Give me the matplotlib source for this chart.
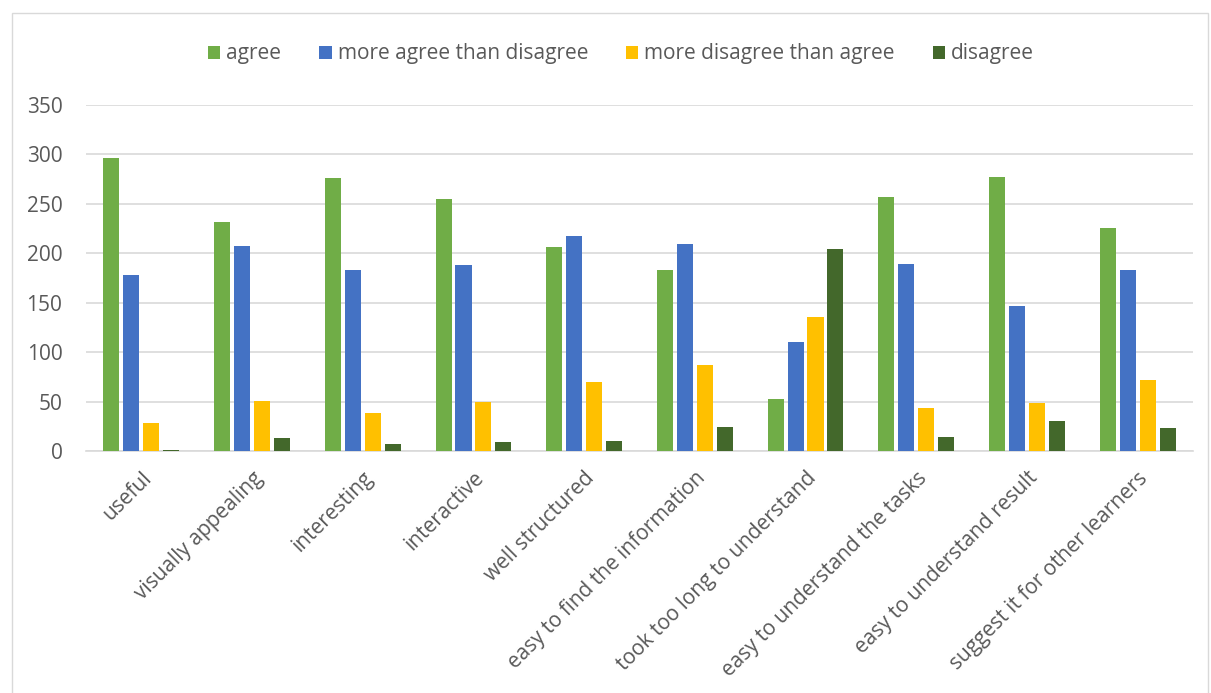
import matplotlib
matplotlib.use("Agg")
import matplotlib.pyplot as plt
import numpy as np
from matplotlib.patches import Rectangle

categories = ["useful", "visually appealing", "interesting", "interactive",
              "well structured", "easy to find the information",
              "took too long to understand", "easy to understand the tasks",
              "easy to understand result", "suggest it for other learners"]
series_names = ["agree", "more agree than disagree",
                "more disagree than agree", "disagree"]
agree = [296, 232, 276, 255, 206, 183, 53, 257, 277, 226]
more_agree = [178, 207, 183, 188, 217, 209, 110, 189, 147, 183]
more_disagree = [28, 51, 38, 50, 70, 87, 136, 43, 49, 72]
disagree = [1, 13, 7, 9, 10, 24, 204, 14, 30, 23]
yticks = [0, 50, 100, 150, 200, 250, 300, 350]

colors = ["#70AD47", "#4472C4", "#FFC000", "#43682B"]
text_color = "#595959"
grid_color = "#D9D9D9"

plt.rcParams['font.family'] = ['Open Sans', 'DejaVu Sans']

fig = plt.figure(figsize=(12.11, 6.93), dpi=100)
fig.patches.append(Rectangle((12/1211, -0.01), (1208-12)/1211, 1 - 13/693 + 0.01,
                             transform=fig.transFigure, fill=False,
                             edgecolor=grid_color, linewidth=1))
ax = fig.add_axes([86/1211, 1 - 451/693, (1193-86)/1211, (451-105)/693])

x = np.arange(len(categories))
data = [agree, more_agree, more_disagree, disagree]
step = 0.18
width = 0.145
for i, (vals, name, c) in enumerate(zip(data, series_names, colors)):
    ax.bar(x + (i - 1.5) * step, vals, width, color=c, label=name, zorder=3)

ax.set_xlim(-0.5, len(categories) - 0.5)
ax.set_ylim(0, 350)
ax.set_yticks(yticks)
ax.set_yticklabels([str(v) for v in yticks], fontsize=15, color=text_color)
ax.grid(axis='y', color=grid_color, linewidth=1.2, zorder=0)
ax.set_axisbelow(True)
for s in ["top", "right", "left"]:
    ax.spines[s].set_visible(False)
ax.spines["bottom"].set_color(grid_color)
ax.spines["bottom"].set_linewidth(1.2)
ax.tick_params(axis='both', length=0)
ax.tick_params(axis='y', pad=17)
ax.set_xticks(x)
ax.set_xticklabels(categories, rotation=45, ha='right', rotation_mode='anchor',
                   fontsize=15, color=text_color)
ax.tick_params(axis='x', pad=12)

leg = fig.legend(loc='center', bbox_to_anchor=(621/1211, 1 - 54/693), ncol=4,
                 frameon=False, fontsize=15, handlelength=0.6, handleheight=0.6,
                 handletextpad=0.3, columnspacing=1.8)
for t in leg.get_texts():
    t.set_color(text_color)

fig.savefig("out.png", dpi=100)
